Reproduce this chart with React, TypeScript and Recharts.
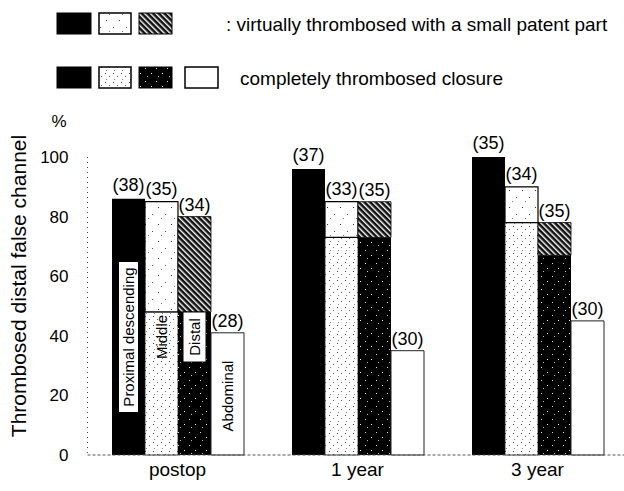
import React from 'react';
import { BarChart, Bar, XAxis, YAxis, LabelList } from 'recharts';

const periods = ['postop', '1 year', '3 year'];
// % thrombosed per segment; proximal is black in both states so only the total can be read
const proximal = [86, 96, 100];
const middleComplete = [48, 73, 78];
const middleVirtual = [37, 12, 12];
const distalComplete = [48, 73, 67];
const distalVirtual = [32, 12, 11];
const abdominal = [41, 35, 45];
// number of patients above each bar
const nProximal = [38, 37, 35];
const nMiddle = [35, 33, 34];
const nDistal = [34, 35, 35];
const nAbdominal = [28, 30, 30];
const yTicks = [0, 20, 40, 60, 80, 100];

const data = periods.map((period, i) => ({
  period,
  proximal: proximal[i],
  middleComplete: middleComplete[i],
  middleVirtual: middleVirtual[i],
  distalComplete: distalComplete[i],
  distalVirtual: distalVirtual[i],
  abdominal: abdominal[i],
  nProximal: nProximal[i],
  nMiddle: nMiddle[i],
  nDistal: nDistal[i],
  nAbdominal: nAbdominal[i],
}));

const FONT = '"Liberation Sans", Arial, Helvetica, sans-serif';
const fmt = (v: any) => `(${v})`;

// rotated segment name drawn inside the first (postop) bar
const innerLabel = (text: string, boxed: boolean, fromBottom: number, boxW: number, boxH: number) => (props: any) => {
  const vb = props.viewBox || props;
  if (props.index !== 0 && vb.x > 260) return null;
  if (props.index !== undefined && props.index !== 0) return null;
  const cx = vb.x + vb.width / 2;
  const cy = vb.y + vb.height - fromBottom;
  return (
    <g>
      {boxed && (
        <rect x={cx - boxW / 2} y={cy - boxH / 2} width={boxW} height={boxH} fill="#fff" stroke="#000" strokeWidth={1} />
      )}
      <text
        x={cx}
        y={cy}
        transform={`rotate(-90 ${cx} ${cy})`}
        textAnchor="middle"
        dominantBaseline="central"
        fontSize={15}
        fontFamily={FONT}
        fill="#000"
      >
        {text}
      </text>
    </g>
  );
};

const Patterns = () => (
  <svg width={0} height={0} style={{ position: 'absolute' }}>
    <defs>
      <pattern id="sparseDots" width="13" height="17" patternUnits="userSpaceOnUse">
        <rect width="13" height="17" fill="#fff" />
        <rect x="2" y="3" width="1" height="1" fill="#333" />
        <rect x="9" y="10" width="1" height="1" fill="#555" />
        <rect x="5" y="14" width="1" height="1" fill="#777" />
      </pattern>
      <pattern id="denseDots" width="8" height="9" patternUnits="userSpaceOnUse">
        <rect width="8" height="9" fill="#fff" />
        <rect x="1" y="1" width="1" height="1" fill="#444" />
        <rect x="5" y="4" width="1" height="1" fill="#666" />
        <rect x="2" y="7" width="1" height="1" fill="#888" />
      </pattern>
      <pattern id="blackDots" width="11" height="13" patternUnits="userSpaceOnUse">
        <rect width="11" height="13" fill="#000" />
        <rect x="2" y="3" width="1" height="1" fill="#ddd" />
        <rect x="8" y="8" width="1" height="1" fill="#fff" />
        <rect x="4" y="11" width="1" height="1" fill="#bbb" />
      </pattern>
      <pattern id="hatch" width="4" height="4" patternUnits="userSpaceOnUse" patternTransform="rotate(-45)">
        <rect width="4" height="4" fill="#111" />
        <rect x="0" y="0" width="1.4" height="4" fill="#fff" />
      </pattern>
    </defs>
  </svg>
);

const Legend = () => (
  <svg width={624} height={140} style={{ position: 'absolute', left: 0, top: 0 }}>
    <rect x={57} y={13} width={34} height={21} fill="#000" stroke="#000" />
    <rect x={99} y={13} width={32} height={21} fill="url(#sparseDots)" stroke="#000" strokeWidth={1.5} />
    <rect x={139} y={13} width={33} height={21} fill="url(#hatch)" stroke="#000" />
    <text x={226} y={24} dominantBaseline="central" fontSize={19} fontFamily={FONT} fill="#000">
      : virtually thrombosed with a small patent part
    </text>
    <rect x={57} y={67} width={34} height={21} fill="#000" stroke="#000" />
    <rect x={99} y={67} width={32} height={21} fill="url(#denseDots)" stroke="#000" strokeWidth={1.5} />
    <rect x={139} y={67} width={33} height={21} fill="url(#blackDots)" stroke="#000" />
    <rect x={185} y={67} width={33} height={21} fill="#fff" stroke="#000" strokeWidth={1.5} />
    <text x={240} y={78} dominantBaseline="central" fontSize={19} fontFamily={FONT} fill="#000">
      completely thrombosed closure
    </text>
    <text x={59} y={121} textAnchor="middle" dominantBaseline="central" fontSize={17} fontFamily={FONT} fill="#000">
      %
    </text>
  </svg>
);

const labelStyle = { fill: '#000', fontSize: 18, fontFamily: FONT };

export default function App() {
  return (
    <div
      style={{
        position: 'absolute',
        left: 0,
        top: 0,
        width: 624,
        height: 491,
        overflow: 'hidden',
        background: '#fff',
        fontFamily: FONT,
      }}
    >
      <Patterns />
      <BarChart
        width={640}
        height={491}
        data={data}
        margin={{ top: 157, right: 12.5, bottom: 6, left: 0 }}
        barCategoryGap={24.5}
        barGap={0}
      >
        <XAxis
          dataKey="period"
          interval={0}
          height={30}
          tickLine={false}
          tickSize={0}
          tickMargin={8}
          axisLine={{ stroke: '#555', strokeDasharray: '3 2' }}
          tick={{ fill: '#000', fontSize: 19, fontFamily: FONT }}
        />
        <YAxis
          domain={[0, 100]}
          ticks={yTicks}
          width={87.5}
          tickLine={false}
          tickSize={0}
          tickMargin={19}
          axisLine={{ stroke: '#444', strokeDasharray: '1 4' }}
          tick={{ fill: '#000', fontSize: 17, fontFamily: FONT }}
        />
        <Bar dataKey="proximal" stackId="prox" fill="#000" isAnimationActive={false}>
          <LabelList dataKey="nProximal" position="top" offset={8} formatter={fmt} {...labelStyle} />
          <LabelList dataKey="nProximal" content={innerLabel('Proximal descending', true, 118, 20, 151)} />
        </Bar>
        <Bar dataKey="middleComplete" stackId="mid" fill="url(#denseDots)" stroke="#222" strokeWidth={0.8} isAnimationActive={false}>
          <LabelList dataKey="nMiddle" content={innerLabel('Middle', false, 118, 0, 0)} />
        </Bar>
        <Bar dataKey="middleVirtual" stackId="mid" fill="url(#sparseDots)" stroke="#000" strokeWidth={1.2} isAnimationActive={false}>
          <LabelList dataKey="nMiddle" position="top" offset={7} formatter={fmt} {...labelStyle} />
        </Bar>
        <Bar dataKey="distalComplete" stackId="dist" fill="url(#blackDots)" isAnimationActive={false}>
          <LabelList dataKey="nDistal" content={innerLabel('Distal', true, 118, 23, 50)} />
        </Bar>
        <Bar dataKey="distalVirtual" stackId="dist" fill="url(#hatch)" stroke="#000" strokeWidth={0.8} isAnimationActive={false}>
          <LabelList dataKey="nDistal" position="top" offset={6} formatter={fmt} {...labelStyle} />
        </Bar>
        <Bar dataKey="abdominal" stackId="abd" fill="#fff" stroke="#222" strokeWidth={1} isAnimationActive={false}>
          <LabelList dataKey="nAbdominal" position="top" offset={6} formatter={fmt} {...labelStyle} />
          <LabelList dataKey="nAbdominal" content={innerLabel('Abdominal', false, 59, 0, 0)} />
        </Bar>
      </BarChart>
      <Legend />
      <svg width={40} height={491} style={{ position: 'absolute', left: 0, top: 0 }}>
        <text
          x={18}
          y={286}
          transform="rotate(-90 18 286)"
          textAnchor="middle"
          dominantBaseline="central"
          fontSize={21}
          fontFamily={FONT}
          fill="#000"
        >
          Thrombosed distal false channel
        </text>
      </svg>
    </div>
  );
}
